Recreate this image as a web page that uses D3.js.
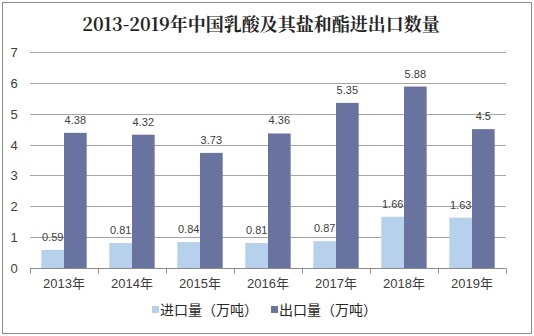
<!DOCTYPE html>
<html>
<head>
<meta charset="utf-8">
<script src="https://cdn.jsdelivr.net/npm/d3@7"></script>
<style>
  html, body { margin: 0; padding: 0; background: #fff; }
  svg { display: block; }
</style>
</head>
<body>
<svg id="chart" width="534" height="336"></svg>
<script>
const years = ["2013年", "2014年", "2015年", "2016年", "2017年", "2018年", "2019年"];
const importVals = [0.59, 0.81, 0.84, 0.81, 0.87, 1.66, 1.63];
const exportVals = [4.38, 4.32, 3.73, 4.36, 5.35, 5.88, 4.5];
const seriesNames = ["进口量（万吨）", "出口量（万吨）"];
const seriesColors = ["#b7d0ec", "#68749f"];
const yTicks = [0, 1, 2, 3, 4, 5, 6, 7];

const svg = d3.select("#chart");
const W = 534, H = 336;
const margin = { left: 30, right: 28, top: 52, bottom: 68 };
const fontSans = "Arial, 'Liberation Sans', 'Noto Sans CJK SC', sans-serif";

// outer frame
svg.append("rect")
  .attr("x", 2.5).attr("y", 2.5)
  .attr("width", W - 5).attr("height", H - 5)
  .attr("fill", "#fff").attr("stroke", "#8c8c8c").attr("stroke-width", 1);

// title
svg.append("text")
  .attr("x", W / 2 - 6).attr("y", 31)
  .attr("text-anchor", "middle")
  .attr("font-family", "'Noto Serif CJK SC', 'DejaVu Serif', 'Noto Sans CJK SC', serif")
  .attr("font-weight", "bold")
  .attr("font-size", 18)
  .attr("fill", "#262626")
  .text("2013-2019年中国乳酸及其盐和酯进出口数量");

const x = d3.scaleBand().domain(years)
  .range([margin.left, W - margin.right]).paddingInner(0).paddingOuter(0);
// two bars per year, side by side, centred in the band
const barW = x.bandwidth() / 3;
const inner = d3.scaleBand().domain([0, 1])
  .range([x.bandwidth() / 2 - barW, x.bandwidth() / 2 + barW]).padding(0);
const y = d3.scaleLinear().domain([0, 7]).range([H - margin.bottom, margin.top]);

// gridlines
svg.append("g").selectAll("line").data(yTicks.filter(d => d > 0)).join("line")
  .attr("x1", margin.left).attr("x2", W - margin.right)
  .attr("y1", d => Math.round(y(d)) + 0.5).attr("y2", d => Math.round(y(d)) + 0.5)
  .attr("stroke", "#a6a6a6").attr("stroke-width", 1);

// y tick labels
svg.append("g").selectAll("text").data(yTicks).join("text")
  .attr("x", 14).attr("y", d => y(d) + 5)
  .attr("text-anchor", "middle")
  .attr("font-family", fontSans).attr("font-size", 13).attr("fill", "#404040")
  .text(d => d);

// bars with value labels
const series = [importVals, exportVals];
series.forEach((vals, si) => {
  svg.append("g").selectAll("rect").data(vals).join("rect")
    .attr("x", (d, i) => x(years[i]) + inner(si))
    .attr("y", d => y(d))
    .attr("width", inner.bandwidth())
    .attr("height", d => y(0) - y(d))
    .attr("fill", seriesColors[si]);
  svg.append("g").selectAll("text").data(vals).join("text")
    .attr("x", (d, i) => x(years[i]) + inner(si) + inner.bandwidth() / 2)
    .attr("y", d => y(d) - 9)
    .attr("text-anchor", "middle")
    .attr("font-family", fontSans).attr("font-size", 11).attr("fill", "#404040")
    .text(d => d);
});

// x axis
const xAxis = d3.axisBottom(x).tickSize(0).tickFormat(d => d);
const gx = svg.append("g").attr("transform", `translate(0,${Math.round(y(0)) + 0.5})`).call(xAxis);
gx.select(".domain").attr("stroke", "#8c8c8c").attr("d", `M${margin.left},0H${W - margin.right}`);
gx.selectAll("text")
  .attr("dy", 0).attr("y", 19)
  .attr("font-family", fontSans).attr("font-size", 13).attr("fill", "#404040");
// category dividers
gx.append("g").selectAll("line").data(d3.range(years.length + 1)).join("line")
  .attr("x1", i => Math.round(margin.left + i * x.bandwidth()) + 0.5)
  .attr("x2", i => Math.round(margin.left + i * x.bandwidth()) + 0.5)
  .attr("y1", 0).attr("y2", 5)
  .attr("stroke", "#8c8c8c");

// legend
const legendX = [152, 271];
const legend = svg.append("g");
seriesNames.forEach((name, i) => {
  legend.append("rect")
    .attr("x", legendX[i]).attr("y", 306)
    .attr("width", 7).attr("height", 7)
    .attr("fill", seriesColors[i]);
  legend.append("text")
    .attr("x", legendX[i] + 8).attr("y", 315)
    .attr("font-family", "'Noto Sans CJK SC', sans-serif")
    .attr("font-size", 14).attr("fill", "#262626")
    .text(name);
});
</script>
</body>
</html>
